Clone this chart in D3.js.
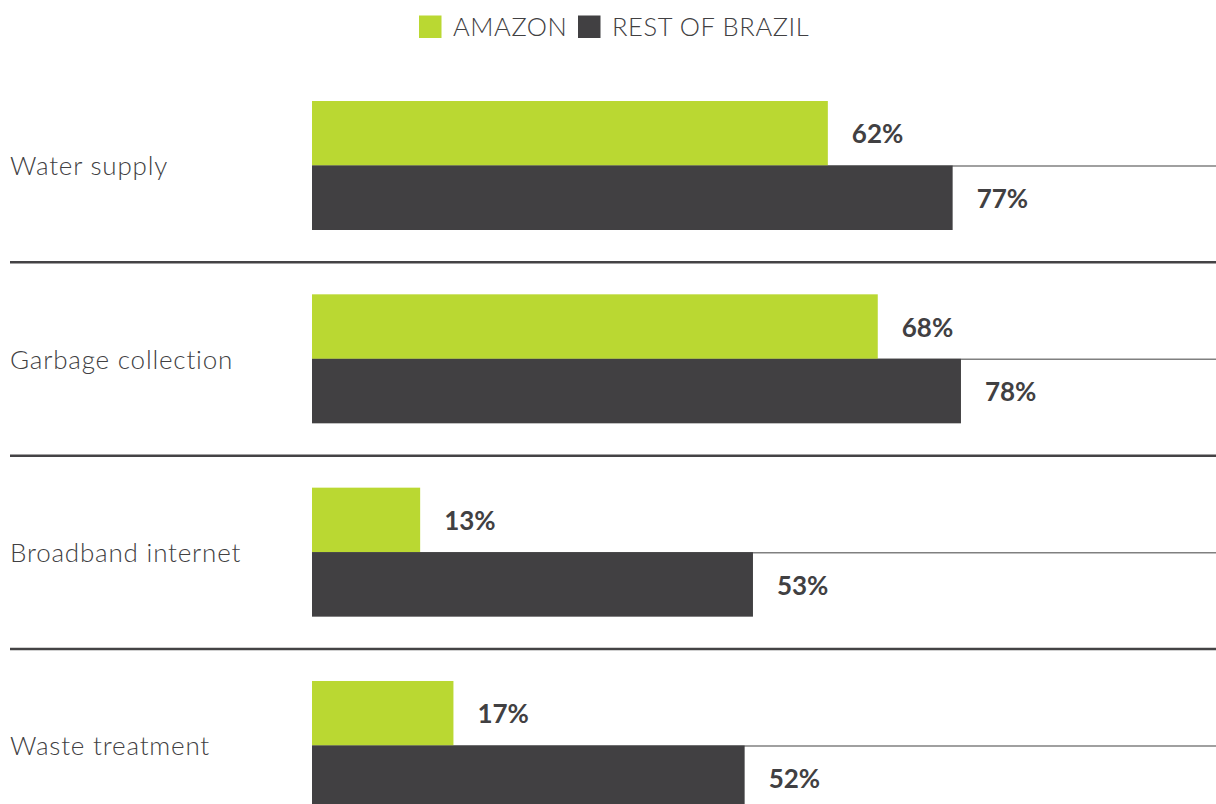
<!DOCTYPE html>
<html><head><meta charset="utf-8">
<script src="https://cdn.jsdelivr.net/npm/d3@7"></script>
<style>
html,body{margin:0;padding:0;background:#fff;}
svg{display:block;}
text{font-family:Lato,"Open Sans",sans-serif;}
</style></head>
<body>
<script>
const categories = ["Water supply","Garbage collection","Broadband internet","Waste treatment"];
const seriesNames = ["AMAZON","REST OF BRAZIL"];
const amazon = [62,68,13,17];
const restOfBrazil = [77,78,53,52];
const colors = ["#bad832","#414042"];

const W=1216,H=804;
const svg=d3.select("body").append("svg").attr("width",W).attr("height",H);

const x=d3.scaleLinear().domain([0,100]).range([312,1144]);
const y=d3.scaleBand().domain(categories).range([69,69+4*193.33]).padding(0);
const ys=d3.scaleBand().domain(seriesNames).range([32,161]).padding(0);

const data=categories.map((c,i)=>({cat:c,vals:[amazon[i],restOfBrazil[i]]}));

// legend
const legend=svg.append("g");
const legX=[419,578];
seriesNames.forEach((s,i)=>{
  legend.append("rect").attr("x",legX[i]).attr("y",15.5).attr("width",22.5).attr("height",22.5).attr("fill",colors[i]);
  legend.append("text").attr("x",legX[i]+34).attr("y",35.5).attr("font-size",25.5)
    .attr("letter-spacing",0.6).attr("fill","#414042")
    .attr("font-weight",300).text(s);
});

const rows=svg.selectAll("g.row").data(data).enter().append("g").attr("class","row")
  .attr("transform",d=>`translate(0,${y(d.cat)})`);

// thin line between bars
rows.append("line").attr("x1",x(0)).attr("x2",W)
  .attr("y1",ys(seriesNames[1])+0.5).attr("y2",ys(seriesNames[1])+0.5)
  .attr("stroke","#808080").attr("stroke-width",1.5);

// separator
rows.filter((d,i)=>i<categories.length-1).append("line").attr("x1",10).attr("x2",W)
  .attr("y1",y.bandwidth()).attr("y2",y.bandwidth())
  .attr("stroke","#444345").attr("stroke-width",2.5);

rows.each(function(d){
  const g=d3.select(this);
  d.vals.forEach((v,j)=>{
    const s=seriesNames[j];
    g.append("rect").attr("x",x(0)).attr("y",ys(s)).attr("width",x(v)-x(0)).attr("height",ys.bandwidth())
      .attr("fill",colors[j]);
    g.append("text").attr("x",x(v)+24).attr("y",ys(s)+ys.bandwidth()/2+1).attr("dy","0.35em")
      .attr("font-size",26).attr("font-weight",700).attr("fill","#414042").text(v+"%");
  });
  g.append("text").attr("x",10).attr("y",ys(seriesNames[1])).attr("dy","0.38em")
    .attr("font-size",26).attr("letter-spacing",0.8).attr("font-weight",300).attr("fill","#414042").text(d.cat);
});
</script>
</body></html>
